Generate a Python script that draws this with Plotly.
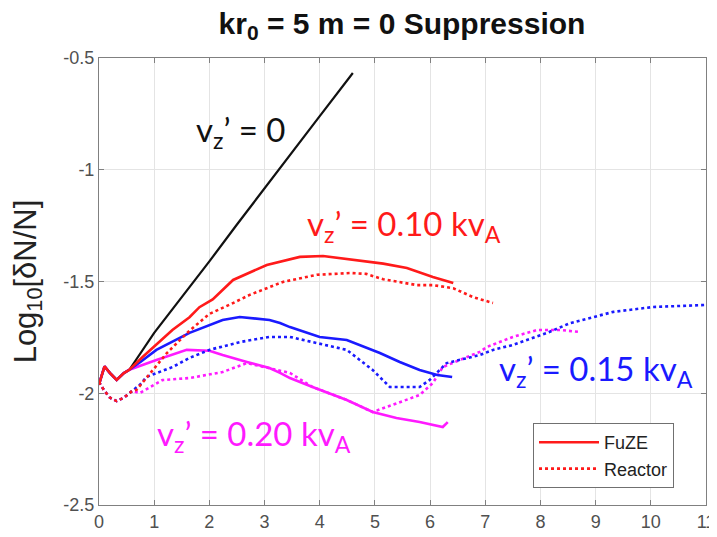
import plotly.graph_objects as go

# ---- data ----
start_solid_x = [0.0, 0.1, 0.2, 0.32, 0.45, 0.55]
start_solid_y = [-1.96, -1.88, -1.91, -1.94, -1.91, -1.895]
start_dot_x = [0.0, 0.1, 0.2, 0.32, 0.45, 0.6]
start_dot_y = [-1.95, -1.99, -2.02, -2.035, -2.02, -1.99]

black_x = [1.0, 1.46, 2.0, 2.5, 3.0, 3.5, 4.0, 4.6]
black_y = [-1.73, -1.583, -1.41, -1.245, -1.085, -0.925, -0.76, -0.567]

red_solid_x = [0.79, 1.33, 1.64, 1.82, 2.06, 2.43, 3.04, 3.64, 4.06, 4.55, 5.15, 5.58, 6.05, 6.42]
red_solid_y = [-1.838, -1.717, -1.66, -1.615, -1.58, -1.493, -1.426, -1.39, -1.386, -1.40, -1.42, -1.44, -1.48, -1.507]

red_dot_x = [0.68, 0.86, 1.23, 1.64, 2.0, 2.4, 2.73, 3.33, 3.95, 4.55, 4.84, 5.15, 5.76, 6.05, 6.42, 6.78, 7.14]
red_dot_y = [-1.985, -1.93, -1.82, -1.72, -1.645, -1.60, -1.56, -1.502, -1.47, -1.462, -1.466, -1.49, -1.516, -1.516, -1.53, -1.57, -1.596]

blue_solid_x = [0.75, 1.04, 1.64, 2.24, 2.55, 3.09, 3.28, 3.46, 4.0, 4.49, 5.09, 5.45, 5.81, 6.13, 6.4]
blue_solid_y = [-1.86, -1.806, -1.73, -1.672, -1.659, -1.672, -1.686, -1.704, -1.748, -1.762, -1.82, -1.86, -1.896, -1.918, -1.927]

blue_dot_x = [0.75, 0.86, 1.33, 1.64, 2.0, 2.55, 3.09, 3.46, 3.87, 4.49, 4.96, 5.27, 5.81, 5.99, 6.3, 6.67, 6.9, 7.14, 7.5, 8.12, 8.54, 9.32, 10.04, 11.0]
blue_dot_y = [-1.96, -1.927, -1.883, -1.842, -1.806, -1.771, -1.748, -1.748, -1.771, -1.806, -1.896, -1.972, -1.972, -1.941, -1.865, -1.842, -1.829, -1.806, -1.784, -1.73, -1.686, -1.636, -1.614, -1.605]

mag_solid_x = [1.04, 1.59, 2.0, 2.24, 2.68, 3.09, 3.28, 3.46, 3.87, 4.49, 4.96, 5.39, 5.81, 6.23, 6.32]
mag_solid_y = [-1.851, -1.806, -1.81, -1.829, -1.86, -1.887, -1.909, -1.932, -1.972, -2.03, -2.084, -2.111, -2.129, -2.151, -2.129]

mag_dot_x = [0.74, 1.15, 1.64, 2.24, 2.68, 3.09, 3.46, 3.87, 4.49, 4.96, 5.39, 5.81, 6.05, 6.23, 6.54, 6.9, 7.03, 7.5, 7.94, 8.36, 8.72]
mag_dot_y = [-1.999, -1.941, -1.932, -1.905, -1.865, -1.887, -1.909, -1.972, -2.03, -2.084, -2.044, -2.008, -1.954, -1.883, -1.851, -1.815, -1.793, -1.748, -1.717, -1.717, -1.726]

x_ticks = list(range(0, 12))
y_ticks = [-2.5, -2, -1.5, -1, -0.5]
y_ticklabels = ["-2.5", "-2", "-1.5", "-1", "-0.5"]

RED = "#ff1a1a"
BLUE = "#1a1aff"
MAG = "#ff1aff"
BLACK = "#111111"

fig = go.Figure()

def add(xs, ys, color, dash, width, name=None, legend=False):
    fig.add_trace(go.Scatter(x=xs, y=ys, mode="lines",
                             line=dict(color=color, dash=dash, width=width),
                             name=name, showlegend=legend))

# black
add(start_solid_x + black_x, start_solid_y + black_y, BLACK, "solid", 2.2)
# magenta
add(start_dot_x + mag_dot_x, start_dot_y + mag_dot_y, MAG, "dot", 2.6)
add(start_solid_x + mag_solid_x, start_solid_y + mag_solid_y, MAG, "solid", 2.6)
# blue
add(start_dot_x + blue_dot_x, start_dot_y + blue_dot_y, BLUE, "dot", 2.6)
add(start_solid_x + blue_solid_x, start_solid_y + blue_solid_y, BLUE, "solid", 2.6)
# red
add(start_dot_x + red_dot_x, start_dot_y + red_dot_y, RED, "dot", 2.6)
add(start_solid_x + red_solid_x, start_solid_y + red_solid_y, RED, "solid", 2.6)

# legend-only traces
fig.add_trace(go.Scatter(x=[None], y=[None], mode="lines", line=dict(color=RED, width=2.6),
                         name="FuZE", showlegend=True))
fig.add_trace(go.Scatter(x=[None], y=[None], mode="lines", line=dict(color=RED, width=2.6, dash="dot"),
                         name="Reactor", showlegend=True))

ann_font = "Lato, 'Open Sans', sans-serif"
anns = [
    (1.73, -0.83, "v<sub>z</sub>’ = 0", BLACK),
    (3.73, -1.25, "v<sub>z</sub>’ = 0.10 kv<sub>A</sub>", RED),
    (7.21, -1.90, "v<sub>z</sub>’ = 0.15 kv<sub>A</sub>", BLUE),
    (1.01, -2.19, "v<sub>z</sub>’ = 0.20 kv<sub>A</sub>", MAG),
]
for ax_, ay_, t, c in anns:
    fig.add_annotation(x=ax_, y=ay_, xref="x", yref="y", text=t, showarrow=False,
                       xanchor="left", yanchor="middle",
                       font=dict(family=ann_font, size=33, color=c))

axis_common = dict(showline=True, linecolor="#808080", linewidth=1, mirror="ticks",
                   ticks="inside", ticklen=5, tickcolor="#808080",
                   showgrid=True, gridcolor="#e4e4e4", gridwidth=1, zeroline=False,
                   automargin=False,
                   tickfont=dict(family="Liberation Sans, Arial, sans-serif", size=18, color="#505050"))

fig.update_layout(
    width=709, height=529,
    margin=dict(l=91, r=11, t=50, b=32),
    paper_bgcolor="white", plot_bgcolor="white",
    title=dict(text="<b>kr<sub>0</sub> = 5 m = 0 Suppression</b>",
               x=0.5557, xanchor="center", y=0.9705, yanchor="middle",
               font=dict(family="Liberation Sans, Arial, sans-serif", size=30, color="#111111")),
    xaxis=dict(range=[0, 11], tickvals=x_ticks, **axis_common),
    yaxis=dict(range=[-2.5, -0.5], tickvals=y_ticks, ticktext=y_ticklabels,
               title=dict(text="Log<sub>10</sub>[δN/N]", standoff=18,
                          font=dict(family="Liberation Sans, Arial, sans-serif", size=31, color="#222222")),
               **axis_common),
    legend=dict(x=0.715, y=0.1834, xanchor="left", yanchor="top",
                bgcolor="white", bordercolor="#707070", borderwidth=1, itemwidth=60,
                font=dict(family="Liberation Sans, Arial, sans-serif", size=18, color="#222222")),
)

fig.write_html("out.html")
